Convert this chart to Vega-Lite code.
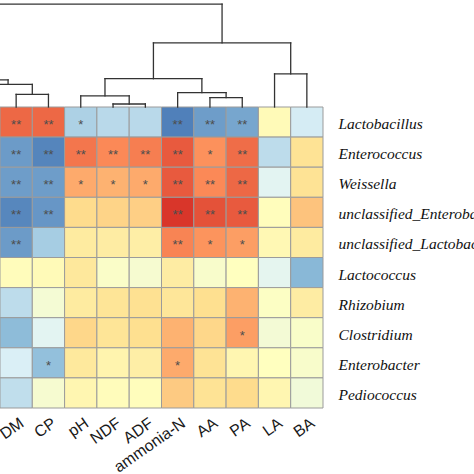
{
  "$schema": "https://vega.github.io/schema/vega-lite/v6.json",
  "autosize": {"type": "none"},
  "width": 323,
  "height": 301,
  "padding": {"left": 0, "top": 107, "right": 151, "bottom": 66},
  "background": "white",
  "config": {"view": {"stroke": null}},
  "datasets": {
    "cells": [
      {"row": "Lactobacillus", "col": "DM", "r": 0.8, "sig": "**"},
      {"row": "Lactobacillus", "col": "CP", "r": 0.8, "sig": "**"},
      {"row": "Lactobacillus", "col": "pH", "r": -0.55, "sig": "*"},
      {"row": "Lactobacillus", "col": "NDF", "r": -0.5, "sig": ""},
      {"row": "Lactobacillus", "col": "ADF", "r": -0.5, "sig": ""},
      {"row": "Lactobacillus", "col": "ammonia-N", "r": -0.95, "sig": "**"},
      {"row": "Lactobacillus", "col": "AA", "r": -0.82, "sig": "**"},
      {"row": "Lactobacillus", "col": "PA", "r": -0.78, "sig": "**"},
      {"row": "Lactobacillus", "col": "LA", "r": 0.05, "sig": ""},
      {"row": "Lactobacillus", "col": "BA", "r": -0.38, "sig": ""},
      {"row": "Enterococcus", "col": "DM", "r": -0.83, "sig": "**"},
      {"row": "Enterococcus", "col": "CP", "r": -0.93, "sig": "**"},
      {"row": "Enterococcus", "col": "pH", "r": 0.75, "sig": "**"},
      {"row": "Enterococcus", "col": "NDF", "r": 0.68, "sig": "**"},
      {"row": "Enterococcus", "col": "ADF", "r": 0.72, "sig": "**"},
      {"row": "Enterococcus", "col": "ammonia-N", "r": 0.85, "sig": "**"},
      {"row": "Enterococcus", "col": "AA", "r": 0.65, "sig": "*"},
      {"row": "Enterococcus", "col": "PA", "r": 0.78, "sig": "**"},
      {"row": "Enterococcus", "col": "LA", "r": -0.48, "sig": ""},
      {"row": "Enterococcus", "col": "BA", "r": 0.3, "sig": ""},
      {"row": "Weissella", "col": "DM", "r": -0.82, "sig": "**"},
      {"row": "Weissella", "col": "CP", "r": -0.82, "sig": "**"},
      {"row": "Weissella", "col": "pH", "r": 0.55, "sig": "*"},
      {"row": "Weissella", "col": "NDF", "r": 0.52, "sig": "*"},
      {"row": "Weissella", "col": "ADF", "r": 0.55, "sig": "*"},
      {"row": "Weissella", "col": "ammonia-N", "r": 0.85, "sig": "**"},
      {"row": "Weissella", "col": "AA", "r": 0.68, "sig": "**"},
      {"row": "Weissella", "col": "PA", "r": 0.8, "sig": "**"},
      {"row": "Weissella", "col": "LA", "r": -0.3, "sig": ""},
      {"row": "Weissella", "col": "BA", "r": 0.3, "sig": ""},
      {"row": "unclassified_Enterobacteriaceae", "col": "DM", "r": -0.92, "sig": "**"},
      {"row": "unclassified_Enterobacteriaceae", "col": "CP", "r": -0.85, "sig": "**"},
      {"row": "unclassified_Enterobacteriaceae", "col": "pH", "r": 0.35, "sig": ""},
      {"row": "unclassified_Enterobacteriaceae", "col": "NDF", "r": 0.38, "sig": ""},
      {"row": "unclassified_Enterobacteriaceae", "col": "ADF", "r": 0.4, "sig": ""},
      {"row": "unclassified_Enterobacteriaceae", "col": "ammonia-N", "r": 0.98, "sig": "**"},
      {"row": "unclassified_Enterobacteriaceae", "col": "AA", "r": 0.88, "sig": "**"},
      {"row": "unclassified_Enterobacteriaceae", "col": "PA", "r": 0.85, "sig": "**"},
      {"row": "unclassified_Enterobacteriaceae", "col": "LA", "r": 0.02, "sig": ""},
      {"row": "unclassified_Enterobacteriaceae", "col": "BA", "r": 0.45, "sig": ""},
      {"row": "unclassified_Lactobacillales", "col": "DM", "r": -0.83, "sig": "**"},
      {"row": "unclassified_Lactobacillales", "col": "CP", "r": -0.58, "sig": ""},
      {"row": "unclassified_Lactobacillales", "col": "pH", "r": 0.22, "sig": ""},
      {"row": "unclassified_Lactobacillales", "col": "NDF", "r": 0.2, "sig": ""},
      {"row": "unclassified_Lactobacillales", "col": "ADF", "r": 0.18, "sig": ""},
      {"row": "unclassified_Lactobacillales", "col": "ammonia-N", "r": 0.7, "sig": "**"},
      {"row": "unclassified_Lactobacillales", "col": "AA", "r": 0.64, "sig": "*"},
      {"row": "unclassified_Lactobacillales", "col": "PA", "r": 0.6, "sig": "*"},
      {"row": "unclassified_Lactobacillales", "col": "LA", "r": 0.08, "sig": ""},
      {"row": "unclassified_Lactobacillales", "col": "BA", "r": 0.22, "sig": ""},
      {"row": "Lactococcus", "col": "DM", "r": 0.03, "sig": ""},
      {"row": "Lactococcus", "col": "CP", "r": 0.05, "sig": ""},
      {"row": "Lactococcus", "col": "pH", "r": 0.25, "sig": ""},
      {"row": "Lactococcus", "col": "NDF", "r": -0.05, "sig": ""},
      {"row": "Lactococcus", "col": "ADF", "r": -0.1, "sig": ""},
      {"row": "Lactococcus", "col": "ammonia-N", "r": 0.2, "sig": ""},
      {"row": "Lactococcus", "col": "AA", "r": -0.07, "sig": ""},
      {"row": "Lactococcus", "col": "PA", "r": 0.0, "sig": ""},
      {"row": "Lactococcus", "col": "LA", "r": -0.28, "sig": ""},
      {"row": "Lactococcus", "col": "BA", "r": -0.7, "sig": ""},
      {"row": "Rhizobium", "col": "DM", "r": -0.48, "sig": ""},
      {"row": "Rhizobium", "col": "CP", "r": -0.12, "sig": ""},
      {"row": "Rhizobium", "col": "pH", "r": 0.22, "sig": ""},
      {"row": "Rhizobium", "col": "NDF", "r": 0.28, "sig": ""},
      {"row": "Rhizobium", "col": "ADF", "r": 0.32, "sig": ""},
      {"row": "Rhizobium", "col": "ammonia-N", "r": 0.27, "sig": ""},
      {"row": "Rhizobium", "col": "AA", "r": 0.33, "sig": ""},
      {"row": "Rhizobium", "col": "PA", "r": 0.52, "sig": ""},
      {"row": "Rhizobium", "col": "LA", "r": -0.03, "sig": ""},
      {"row": "Rhizobium", "col": "BA", "r": 0.2, "sig": ""},
      {"row": "Clostridium", "col": "DM", "r": -0.68, "sig": ""},
      {"row": "Clostridium", "col": "CP", "r": -0.3, "sig": ""},
      {"row": "Clostridium", "col": "pH", "r": 0.37, "sig": ""},
      {"row": "Clostridium", "col": "NDF", "r": 0.28, "sig": ""},
      {"row": "Clostridium", "col": "ADF", "r": 0.33, "sig": ""},
      {"row": "Clostridium", "col": "ammonia-N", "r": 0.52, "sig": ""},
      {"row": "Clostridium", "col": "AA", "r": 0.37, "sig": ""},
      {"row": "Clostridium", "col": "PA", "r": 0.6, "sig": "*"},
      {"row": "Clostridium", "col": "LA", "r": -0.13, "sig": ""},
      {"row": "Clostridium", "col": "BA", "r": -0.06, "sig": ""},
      {"row": "Enterobacter", "col": "DM", "r": -0.36, "sig": ""},
      {"row": "Enterobacter", "col": "CP", "r": -0.66, "sig": "*"},
      {"row": "Enterobacter", "col": "pH", "r": 0.24, "sig": ""},
      {"row": "Enterobacter", "col": "NDF", "r": 0.12, "sig": ""},
      {"row": "Enterobacter", "col": "ADF", "r": 0.18, "sig": ""},
      {"row": "Enterobacter", "col": "ammonia-N", "r": 0.55, "sig": "*"},
      {"row": "Enterobacter", "col": "AA", "r": 0.3, "sig": ""},
      {"row": "Enterobacter", "col": "PA", "r": 0.1, "sig": ""},
      {"row": "Enterobacter", "col": "LA", "r": 0.0, "sig": ""},
      {"row": "Enterobacter", "col": "BA", "r": -0.07, "sig": ""},
      {"row": "Pediococcus", "col": "DM", "r": -0.47, "sig": ""},
      {"row": "Pediococcus", "col": "CP", "r": -0.1, "sig": ""},
      {"row": "Pediococcus", "col": "pH", "r": 0.1, "sig": ""},
      {"row": "Pediococcus", "col": "NDF", "r": 0.03, "sig": ""},
      {"row": "Pediococcus", "col": "ADF", "r": 0.02, "sig": ""},
      {"row": "Pediococcus", "col": "ammonia-N", "r": 0.42, "sig": ""},
      {"row": "Pediococcus", "col": "AA", "r": 0.3, "sig": ""},
      {"row": "Pediococcus", "col": "PA", "r": 0.35, "sig": ""},
      {"row": "Pediococcus", "col": "LA", "r": 0.1, "sig": ""},
      {"row": "Pediococcus", "col": "BA", "r": -0.15, "sig": ""}
    ],
    "tree": [
      {"x": -4, "x2": 6.875, "h": 3.42, "h2": 3.42},
      {"x": 6.875, "x2": 6.875, "h": 3.42, "h2": 2.13},
      {"x": 4.75, "x2": 9.0, "h": 2.13, "h2": 2.13},
      {"x": 9.0, "x2": 9.0, "h": 2.13, "h2": 1.1},
      {"x": 8.5, "x2": 9.5, "h": 1.1, "h2": 1.1},
      {"x": 8.5, "x2": 8.5, "h": 1.1, "h2": 0},
      {"x": 9.5, "x2": 9.5, "h": 1.1, "h2": 0},
      {"x": 4.75, "x2": 4.75, "h": 2.13, "h2": 0.94},
      {"x": 3.25, "x2": 6.25, "h": 0.94, "h2": 0.94},
      {"x": 3.25, "x2": 3.25, "h": 0.94, "h2": 0.37},
      {"x": 2.5, "x2": 4.0, "h": 0.37, "h2": 0.37},
      {"x": 2.5, "x2": 2.5, "h": 0.37, "h2": 0},
      {"x": 4.0, "x2": 4.0, "h": 0.37, "h2": 0.1},
      {"x": 3.5, "x2": 4.5, "h": 0.1, "h2": 0.1},
      {"x": 3.5, "x2": 3.5, "h": 0.1, "h2": 0},
      {"x": 4.5, "x2": 4.5, "h": 0.1, "h2": 0},
      {"x": 6.25, "x2": 6.25, "h": 0.94, "h2": 0.48},
      {"x": 5.5, "x2": 7.0, "h": 0.48, "h2": 0.48},
      {"x": 5.5, "x2": 5.5, "h": 0.48, "h2": 0},
      {"x": 7.0, "x2": 7.0, "h": 0.48, "h2": 0.31},
      {"x": 6.5, "x2": 7.5, "h": 0.31, "h2": 0.31},
      {"x": 6.5, "x2": 6.5, "h": 0.31, "h2": 0},
      {"x": 7.5, "x2": 7.5, "h": 0.31, "h2": 0},
      {"x": 0.5, "x2": 1.5, "h": 0.42, "h2": 0.42},
      {"x": 0.5, "x2": 0.5, "h": 0.42, "h2": 0},
      {"x": 1.5, "x2": 1.5, "h": 0.42, "h2": 0},
      {"x": 1.0, "x2": 1.0, "h": 0.42, "h2": 0.75},
      {"x": -0.5, "x2": 1.0, "h": 0.75, "h2": 0.75},
      {"x": -0.5, "x2": -0.5, "h": 0.75, "h2": 0},
      {"x": 0.25, "x2": 0.25, "h": 0.75, "h2": 0.9},
      {"x": -3, "x2": 0.25, "h": 0.9, "h2": 0.9}
    ]
  },
  "layer": [
    {
      "data": {"name": "cells"},
      "encoding": {
        "x": {
          "field": "col", "type": "nominal",
          "scale": {"domain": ["DM", "CP", "pH", "NDF", "ADF", "ammonia-N", "AA", "PA", "LA", "BA"], "paddingInner": 0, "paddingOuter": 0},
          "axis": {"orient": "bottom", "title": null, "ticks": false, "domain": false, "labelAngle": -35, "labelAlign": "right", "labelBaseline": "middle", "labelPadding": 13, "labelOffset": 6, "labelFont": "Liberation Sans", "labelFontSize": 16, "labelColor": "#1a1a1a", "labelOverlap": false, "labelBound": false}
        },
        "y": {
          "field": "row", "type": "nominal",
          "scale": {"domain": ["Lactobacillus", "Enterococcus", "Weissella", "unclassified_Enterobacteriaceae", "unclassified_Lactobacillales", "Lactococcus", "Rhizobium", "Clostridium", "Enterobacter", "Pediococcus"], "paddingInner": 0, "paddingOuter": 0},
          "axis": {"orient": "right", "title": null, "ticks": false, "domain": false, "labelPadding": 15, "labelOffset": 2, "labelFont": "Liberation Serif", "labelFontStyle": "italic", "labelFontSize": 15.5, "labelColor": "#111111", "labelLimit": 400, "labelOverlap": false, "labelBound": false}
        }
      },
      "layer": [
        {
          "mark": {"type": "rect", "stroke": "#9b9b9b", "strokeWidth": 1},
          "encoding": {
            "color": {
              "field": "r", "type": "quantitative",
              "scale": {"type": "linear", "interpolate": "rgb", "domain": [-1, -0.667, -0.333, 0, 0.333, 0.667, 1], "range": ["#4575B4", "#91BFDB", "#E0F3F8", "#FFFFBF", "#FEE090", "#FC8D59", "#D73027"]},
              "legend": null
            }
          }
        },
        {
          "mark": {"type": "text", "fontSize": 13, "color": "#4d4d4d", "baseline": "middle", "dy": 3, "font": "Liberation Sans"},
          "encoding": {
            "text": {"field": "sig", "type": "nominal"}
          }
        }
      ]
    },
    {
      "data": {"name": "tree"},
      "mark": {"type": "rule", "color": "#333333", "strokeWidth": 1.3, "strokeCap": "square"},
      "encoding": {
        "x": {"field": "x", "type": "quantitative", "scale": {"domain": [0, 10], "nice": false, "zero": false}, "axis": null},
        "x2": {"field": "x2"},
        "y": {"field": "h", "type": "quantitative", "scale": {"domain": [-10, 0], "nice": false, "zero": false}, "axis": null},
        "y2": {"field": "h2"}
      }
    }
  ],
  "resolve": {"scale": {"x": "independent", "y": "independent"}, "axis": {"x": "independent", "y": "independent"}}
}
